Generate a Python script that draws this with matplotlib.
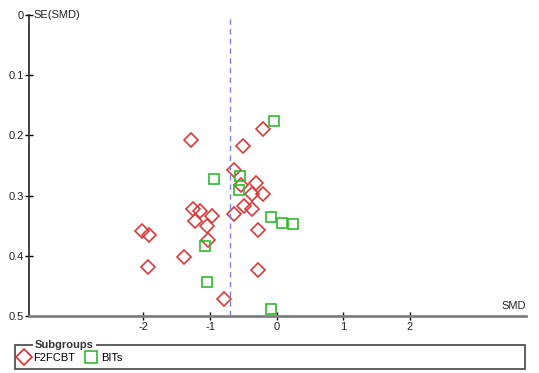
import matplotlib.pyplot as plt
from matplotlib.patches import Rectangle
from matplotlib.lines import Line2D

plt.rcParams['font.family'] = ['Liberation Sans', 'DejaVu Sans']

# F2FCBT subgroup (SMD, SE)
f2f_smd = [-0.20, -1.285, -0.50, -0.635, -0.54, -0.315, -0.365, -0.20, -0.49, -0.375,
           -0.635, -1.26, -1.15, -0.975, -1.23, -1.05, -0.275, -2.015, -1.91, -1.025,
           -1.39, -1.93, -0.285, -0.785]
f2f_se = [0.190, 0.208, 0.218, 0.257, 0.283, 0.279, 0.298, 0.298, 0.318, 0.322,
          0.331, 0.323, 0.326, 0.334, 0.342, 0.351, 0.357, 0.358, 0.365, 0.374,
          0.402, 0.419, 0.423, 0.472]

# BITs subgroup
bit_smd = [-0.045, -0.935, -0.545, -0.565, -0.085, 0.08, 0.25, -1.075, -1.04, -0.085]
bit_se = [0.176, 0.272, 0.267, 0.291, 0.335, 0.346, 0.347, 0.384, 0.443, 0.489]

pooled_smd = -0.70
xticks = [-2, -1, 0, 1, 2]
yticks = [0, 0.1, 0.2, 0.3, 0.4, 0.5]

fig = plt.figure(figsize=(5.39, 3.73), dpi=100)
ax = fig.add_axes([0.0544, 0.1528, 0.9216, 0.807])

red = '#d93a3a'
green = '#2dbb2d'
ax.plot(f2f_smd, f2f_se, linestyle='none', marker='D', markersize=7.5,
        markerfacecolor='none', markeredgecolor=red, markeredgewidth=1.2, label='F2FCBT')
ax.plot(bit_smd, bit_se, linestyle='none', marker='s', markersize=6.5,
        markerfacecolor='none', markeredgecolor=green, markeredgewidth=1.2, label='BITs')
ax.axvline(pooled_smd, ymin=0, ymax=1, color='#8080e0', linestyle=(0, (4, 3)), linewidth=1)

ax.set_xlim(-3.71, 3.74)
ax.set_ylim(0.5, 0)
ax.set_xticks(xticks)
ax.set_xticklabels([str(t) for t in xticks])
ax.set_yticks(yticks)
ax.set_yticklabels(['0', '0.1', '0.2', '0.3', '0.4', '0.5'])

for s in ['top', 'right']:
    ax.spines[s].set_visible(False)
ax.spines['left'].set_color('#333333')
ax.spines['left'].set_linewidth(1.3)
ax.spines['bottom'].set_color('#808080')
ax.spines['bottom'].set_linewidth(2)
ax.tick_params(direction='inout', length=6, width=1, labelsize=8, colors='black', pad=1)
ax.tick_params(labelcolor='#222222')

ax.text(0.008, 1.0, 'SE(SMD)', transform=ax.transAxes, fontsize=8, va='center', ha='left', color='#222222')
ax.text(1.0, 0.018, 'SMD', transform=ax.transAxes, fontsize=8, va='bottom', ha='right', color='#222222')

# legend box (fieldset-like)
fig.patches.append(Rectangle((15 / 539, 1 - 369 / 373), (525 - 15) / 539, (369 - 345) / 373,
                             transform=fig.transFigure, fill=False, edgecolor='#444444', linewidth=1.2))
fig.text(35 / 539, 1 - 345 / 373, 'Subgroups', fontsize=8, fontweight='bold', va='center', ha='left',
         color='#333333', bbox=dict(facecolor='white', edgecolor='none', pad=1.5))
handles = [Line2D([], [], linestyle='none', marker='D', markersize=8, markerfacecolor='none',
                  markeredgecolor=red, markeredgewidth=1.3),
           Line2D([], [], linestyle='none', marker='s', markersize=8, markerfacecolor='none',
                  markeredgecolor=green, markeredgewidth=1.2)]
fig.legend(handles, ['F2FCBT', 'BITs'], loc='center left', bbox_to_anchor=(18 / 539, 1 - 358 / 373),
           ncol=2, frameon=False, fontsize=8, handlelength=1, handletextpad=0.4,
           columnspacing=0.9, borderpad=0, borderaxespad=0)

fig.savefig('out.png', dpi=100)
